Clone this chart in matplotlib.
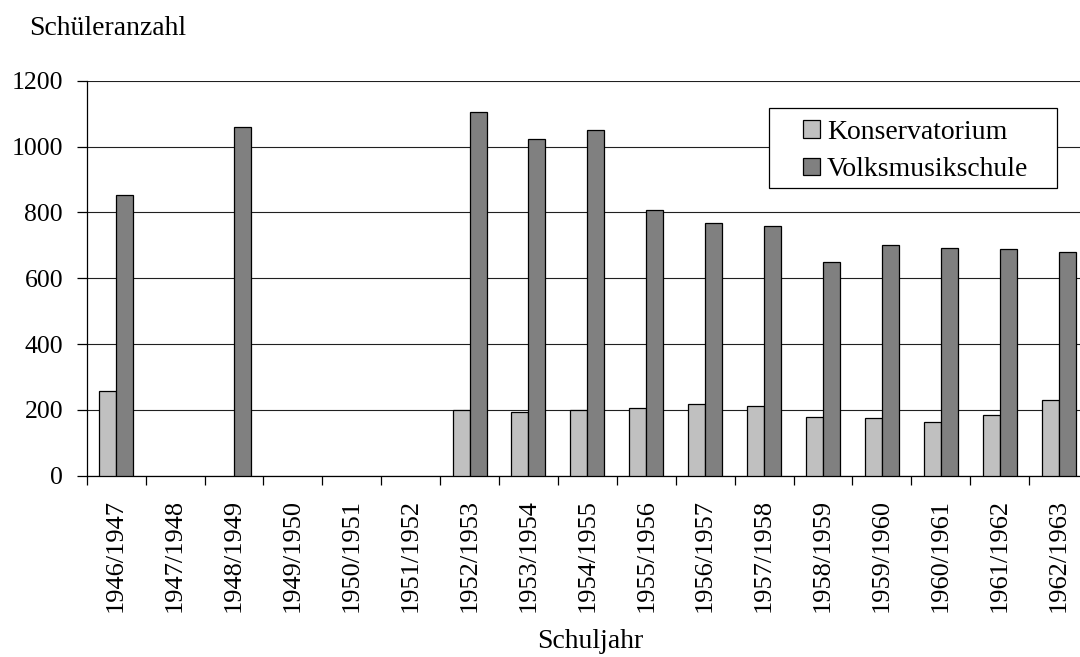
import numpy as np
import matplotlib
matplotlib.use("Agg")
import matplotlib.pyplot as plt
from matplotlib.patches import Rectangle

plt.rcParams["font.family"] = ["Liberation Serif", "DejaVu Serif"]

# school years and pupil counts per institution (NaN = no data)
years = ["1946/1947", "1947/1948", "1948/1949", "1949/1950", "1950/1951",
         "1951/1952", "1952/1953", "1953/1954", "1954/1955", "1955/1956",
         "1956/1957", "1957/1958", "1958/1959", "1959/1960", "1960/1961",
         "1961/1962", "1962/1963"]
konservatorium = [258, np.nan, np.nan, np.nan, np.nan, np.nan, 200, 194, 201,
                  207, 219, 213, 178, 175, 162, 184, 229]
volksmusikschule = [853, np.nan, 1058, np.nan, np.nan, np.nan, 1104, 1024,
                    1049, 808, 768, 760, 650, 700, 691, 690, 680]

W, H = 1080, 657
fig = plt.figure(figsize=(W / 100, H / 100), dpi=100)
# plot area runs a little past the right edge of the canvas
ax = fig.add_axes([86.7 / W, 1 - 475.7 / H, (1088 - 86.7) / W, (475.7 - 80.7) / H])

x = np.arange(len(years))
bw = 0.288
b1 = ax.bar(x - bw / 2, konservatorium, bw, color="#c0c0c0", edgecolor="black",
            linewidth=0.9, label="Konservatorium", zorder=3)
b2 = ax.bar(x + bw / 2, volksmusikschule, bw, color="#808080", edgecolor="black",
            linewidth=0.9, label="Volksmusikschule", zorder=3)

ax.set_xlim(-0.5, len(years) - 0.5)
ax.set_ylim(0, 1200)
ax.set_yticks(range(0, 1201, 200))
ax.tick_params(axis="y", labelsize=18.5, length=7, width=0.9, direction="out", pad=10)

# category boundaries carry the ticks, labels sit centred in each slot
ax.set_xticks(np.arange(len(years) + 1) - 0.5)
ax.set_xticklabels([])
ax.set_xticks(x, minor=True)
ax.set_xticklabels(years, minor=True, rotation=90, fontsize=19)
ax.tick_params(axis="x", which="major", length=6.5, width=0.9, direction="out")
ax.tick_params(axis="x", which="minor", length=0, pad=17)

ax.grid(axis="y", color="#202020", linewidth=0.8, zorder=0)
ax.set_axisbelow(True)
for side in ("top", "right"):
    ax.spines[side].set_visible(False)
for side in ("left", "bottom"):
    ax.spines[side].set_linewidth(0.9)

# legend box: white frame on top of the grid, entries inside
frame = Rectangle((769 / W, 1 - 188 / H), (1057 - 769) / W, (188 - 108.3) / H,
                  transform=fig.transFigure, facecolor="white", edgecolor="black",
                  linewidth=0.9, zorder=5)
fig.add_artist(frame)
leg = fig.legend([b1, b2], ["Konservatorium", "Volksmusikschule"],
                 loc="center left", bbox_to_anchor=(803 / W, 1 - 151 / H),
                 bbox_transform=fig.transFigure, borderaxespad=0, borderpad=0,
                 fontsize=20, frameon=False, handlelength=0.61, handleheight=0.61,
                 handletextpad=0.25, labelspacing=0.45)
leg.set_zorder(6)

fig.text(29 / W, 1 - 35 / H, "Schüleranzahl", fontsize=20, va="baseline", ha="left")
fig.text(590 / W, 1 - 648 / H, "Schuljahr", fontsize=20, va="baseline", ha="center")

fig.savefig("out.png", dpi=100)
